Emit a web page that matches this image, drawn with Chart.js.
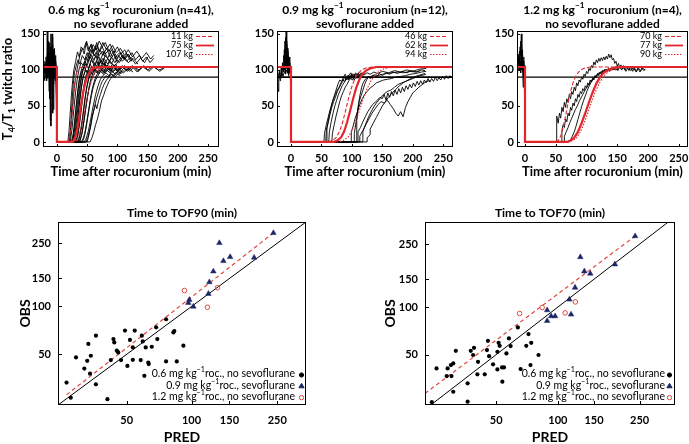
<!DOCTYPE html>
<html>
<head>
<meta charset="utf-8">
<script src="https://cdn.jsdelivr.net/npm/chart.js@4.4.1/dist/chart.umd.min.js"></script>
<style>
body{margin:0;background:#fff;width:689px;height:444px;overflow:hidden;position:relative}
canvas{position:absolute}
</style>
</head>
<body>
<canvas id="panelA" width="230" height="185" style="left:0;top:0"></canvas>
<canvas id="panelB" width="230" height="185" style="left:240px;top:0"></canvas>
<canvas id="panelC" width="219" height="185" style="left:470px;top:0"></canvas>
<canvas id="panelD" width="345" height="244" style="left:0;top:200px"></canvas>
<canvas id="panelE" width="344" height="244" style="left:345px;top:200px"></canvas>
<script>
// shared ticks
const timeTicks = [0, 50, 100, 150, 200, 250];
const ratioTicks = [0, 50, 100, 150];
const predTicks = [50, 100, 150, 250];
const tofLevel = 90;

// ---- 0.6 mg/kg, no sevoflurane ----
const aTitle = ['0.6 mg kg^−1^ rocuronium (n=41),', 'no sevoflurane added'];
const aWeights = ['11 kg', '75 kg', '107 kg'];
const aPredDashed = [[-23,104],[0,104],[0,0],[17,0],[19,2],[21,8],[23,20],[25,38],[27,58],[29,76],[31,89],[33,97],[35,101],[38,103],[44,104],[268,104]];
const aPredSolid = [[-23,104],[0,104],[0,0],[25,0],[28,2],[31,8],[34,19],[37,35],[40,52],[43,67],[46,79],[49,88],[52,94],[56,99],[60,102],[66,103.5],[75,104],[268,104]];
const aPredDotted = [[-23,104],[0,104],[0,0],[29,0],[33,3],[37,10],[41,23],[45,40],[49,58],[53,73],[57,85],[61,93],[65,98],[70,101],[77,103],[88,104],[268,104]];
const aBaseline = [
  [[-23,92],[-22,100],[-21,88],[-20,105],[-19,96],[-18,110],[-17,85],[-16,120],[-15,95],[-14,140],[-13,70],[-12,118],[-11,30],[-10,125],[-9,90],[-8,150],[-7,60],[-6,115],[-5,95],[-4,130],[-3,100],[-2,105],[-1,98],[0,0]],
  [[-23,105],[-21,96],[-20,112],[-18,90],[-17,104],[-15,88],[-14,110],[-12,95],[-11,132],[-10,22],[-9,100],[-7,145],[-6,80],[-5,110],[-3,92],[-1,98],[0,0]],
  [[-23,88],[-22,95],[-20,85],[-19,100],[-17,92],[-16,155],[-15,98],[-13,106],[-12,60],[-11,112],[-9,96],[-8,118],[-7,40],[-6,104],[-4,126],[-3,85],[-2,112],[0,0]],
  [[-13,100],[-12,138],[-11,105],[-10,150],[-9,98],[-8,112],[-7,135],[-6,45],[-5,102],[-4,116],[-3,95],[-2,108],[-1,102],[0,0]],
  [[-23,100],[-20,104],[-17,99],[-14,110],[-11,92],[-9,104],[-7,98],[-5,110],[-3,100],[-1,96],[0,0]],
  [[-22,96],[-21,108],[-19,94],[-18,118],[-16,102],[-15,90],[-13,124],[-12,104],[-10,86],[-9,115],[-8,102],[-6,128],[-5,100],[-4,88],[-2,120],[-1,92],[0,0]]
];
const aObserved = [
  [[0,0],[18,0],[20,15],[22,40],[24,65],[26,85],[28,100],[31,112],[34,125],[37,118],[40,132],[44,128],[48,138],[52,126],[56,135],[60,124],[65,130],[70,120],[75,126],[80,118]],
  [[0,0],[20,0],[23,20],[26,50],[29,78],[32,95],[35,108],[38,120],[42,130],[45,122],[49,140],[53,128],[57,136],[61,126],[66,138],[70,125],[75,132],[80,122],[86,128],[92,118]],
  [[0,0],[22,0],[25,18],[28,45],[31,70],[34,90],[37,102],[40,110],[44,106],[48,118],[52,112],[56,122],[60,114],[65,120],[70,108],[76,116],[82,104],[88,112],[95,105],[100,110]],
  [[0,0],[24,0],[27,12],[30,35],[33,60],[36,82],[39,96],[42,104],[46,112],[50,106],[55,118],[60,110],[66,124],[72,114],[78,126],[84,116],[90,128],[97,118],[104,124],[110,115],[116,122],[122,112]],
  [[0,0],[25,0],[28,10],[31,28],[34,52],[37,74],[40,90],[43,100],[47,108],[52,102],[57,114],[62,106],[68,118],[74,108],[80,120],[87,112],[94,122],[100,110],[108,120],[115,112],[122,118],[130,108],[138,116],[145,110],[150,118]],
  [[0,0],[26,0],[29,20],[32,48],[35,72],[38,90],[41,98],[45,104],[50,96],[55,108],[60,100],[66,112],[72,102],[78,110],[85,100],[92,108],[100,98],[108,106],[116,98],[125,104],[133,97],[140,104]],
  [[0,0],[28,0],[31,8],[34,25],[37,50],[40,72],[43,88],[46,98],[50,110],[55,126],[60,135],[65,128],[70,140],[75,132],[80,138],[86,126],[92,134],[98,124],[105,130],[112,120],[118,128],[125,118],[132,126],[140,116],[148,124],[155,115],[160,120]],
  [[0,0],[29,0],[32,15],[35,38],[38,62],[41,80],[44,92],[48,100],[52,95],[57,104],[62,98],[68,106],[74,100],[80,108],[86,100],[93,106],[100,98],[108,104],[116,100],[125,106],[134,98],[142,104],[150,100],[160,105],[170,98],[178,103]],
  [[0,0],[30,0],[33,6],[36,20],[39,40],[42,62],[45,80],[48,92],[52,100],[56,112],[61,122],[66,116],[71,128],[76,120],[82,130],[88,118],[94,126],[100,116],[106,124],[112,114],[118,122],[124,112]],
  [[0,0],[32,0],[35,10],[38,28],[41,50],[44,70],[47,85],[50,94],[54,100],[58,94],[63,102],[68,96],[74,104],[80,98],[86,106],[92,98],[98,104],[104,96],[110,102]],
  [[0,0],[33,0],[36,4],[39,15],[42,32],[45,52],[48,70],[51,84],[54,94],[58,100],[62,110],[67,102],[72,114],[78,106],[84,116],[90,108],[96,118],[103,110],[110,120],[118,110],[126,116],[134,108]],
  [[0,0],[35,0],[38,8],[41,22],[44,42],[47,62],[50,78],[53,88],[57,96],[61,102],[66,96],[71,104],[77,98],[83,106],[90,100],[97,108],[104,100],[112,106],[120,98],[128,104],[136,100],[144,106],[152,98],[160,104],[168,100],[176,102]],
  [[0,0],[36,0],[39,5],[42,14],[45,30],[48,48],[51,65],[54,80],[57,90],[60,96],[64,102],[68,110],[73,104],[78,116],[84,108],[90,118],[96,110],[102,120],[108,112],[115,118]],
  [[0,0],[38,0],[41,10],[44,26],[47,44],[50,60],[53,74],[56,84],[60,92],[64,98],[69,94],[74,100],[80,96],[86,102],[92,97],[98,101]],
  [[0,0],[40,0],[43,4],[46,12],[49,26],[52,42],[55,58],[58,72],[61,82],[64,90],[68,96],[72,100],[77,96],[82,104],[88,98],[94,106],[100,100],[106,104]],
  [[0,0],[42,0],[45,6],[48,18],[51,34],[54,50],[57,64],[60,76],[64,86],[68,92],[72,98],[77,94],[82,100],[88,96],[94,104],[100,98],[108,104],[115,99],[122,104]],
  [[0,0],[45,0],[48,4],[52,15],[56,32],[60,50],[64,66],[68,78],[72,87],[76,92],[81,96],[86,92],[91,98],[97,94],[103,100],[110,96],[118,102],[126,97]],
  [[0,0],[50,0],[53,10],[56,22],[58,35],[61,44],[64,52],[66,46],[69,58],[72,66],[75,74],[78,80],[82,86],[86,90],[90,94],[95,92],[100,98],[106,95],[112,100]],
  [[0,0],[55,0],[58,6],[61,14],[64,24],[67,32],[70,42],[72,50],[74,58],[77,64],[80,72],[83,78],[86,84],[89,88],[92,92],[96,90],[100,94],[105,92]],
  [[0,0],[21,0],[23,25],[25,55],[27,80],[29,96],[32,106],[35,114],[38,108],[42,120],[46,114],[50,124],[54,116],[58,128],[62,120],[66,126]],
  [[0,0],[27,0],[30,12],[33,34],[36,58],[39,80],[42,96],[46,108],[50,118],[55,128],[60,122],[65,134],[70,126],[76,138],[82,128],[88,136],[94,124],[100,132],[106,122],[112,128],[118,118],[124,124],[130,114],[136,120],[142,112],[148,118],[154,110],[160,116]],
  [[0,0],[48,0],[51,6],[54,16],[57,28],[60,40],[63,52],[66,62],[69,70],[72,78],[75,84],[78,88],[81,92],[85,90],[89,95],[93,92],[98,97],[103,94],[108,99]]
];

// ---- 0.9 mg/kg, sevoflurane ----
const bTitle = ['0.9 mg kg^−1^ rocuronium (n=12),', 'sevoflurane added'];
const bWeights = ['46 kg', '62 kg', '94 kg'];
const bPredDashed = [[-23,104],[0,104],[0,0],[62,0],[68,2],[74,6],[80,15],[85,28],[90,45],[95,62],[100,77],[105,88],[110,95],[116,100],[124,103],[135,104],[266,104]];
const bPredSolid = [[-23,104],[0,104],[0,0],[70,0],[76,2],[82,6],[87,14],[92,27],[97,43],[102,60],[107,75],[112,86],[117,94],[123,99],[130,102],[140,104],[266,104]];
const bPredDotted = [[-23,104],[0,104],[0,0],[78,0],[86,2],[94,7],[100,15],[106,28],[112,43],[118,58],[124,72],[130,83],[136,91],[143,97],[151,101],[162,103.5],[175,104],[266,104]];
const bBaseline = [
  [[-23,88],[-22,96],[-21,70],[-20,92],[-19,100],[-18,85],[-17,96],[-16,104],[-15,92],[-14,110],[-13,98],[-12,120],[-11,100],[-10,140],[-9,95],[-8,155],[-7,105],[-6,130],[-5,96],[-4,112],[-3,100],[-2,104],[-1,98],[0,0]],
  [[-13,105],[-12,98],[-11,128],[-10,110],[-9,145],[-8,102],[-7,135],[-6,98],[-5,120],[-4,92],[-3,110],[-2,96],[-1,102],[0,0]],
  [[-23,94],[-21,92],[-19,96],[-17,90],[-15,95],[-13,91],[-11,98],[-9,94],[-7,100],[-5,95],[-3,98],[-1,94],[0,0]],
  [[-10,100],[-9,118],[-8,108],[-7,140],[-6,112],[-5,126],[-4,104],[-3,118],[-2,100],[-1,106],[0,0]]
];
const bObserved = [
  [[0,0],[54,0],[55,12],[58,24],[61,34],[64,44],[67,52],[70,60],[73,66],[76,72],[79,76],[82,82],[85,86],[88,84],[91,90],[94,86],[97,92],[100,88],[103,94],[106,89],[109,95],[112,91],[115,96],[118,92],[121,95]],
  [[0,0],[57,0],[58,16],[61,26],[64,38],[67,48],[70,56],[73,62],[76,70],[79,75],[82,80],[85,84],[88,90],[91,86],[94,93],[97,88],[100,95],[103,90],[106,96],[109,92],[112,97]],
  [[0,0],[62,0],[63,14],[66,28],[69,40],[72,50],[75,58],[78,66],[81,72],[84,78],[87,82],[90,86],[93,90],[96,87],[99,93],[102,89],[105,94],[108,91],[111,95],[114,92],[117,96],[120,93],[125,96],[130,94],[136,97],[142,95],[150,98],[160,96],[170,99],[180,97],[190,100],[200,98],[210,101],[222,102]],
  [[0,0],[67,0],[68,12],[71,24],[74,36],[77,46],[80,56],[83,64],[86,70],[89,76],[92,80],[95,85],[98,88],[101,86],[104,90],[107,88],[110,92],[113,89],[116,93],[119,90]],
  [[0,0],[99,0],[99,14],[102,22],[105,32],[109,42],[113,52],[117,60],[121,66],[125,70],[130,75],[135,78],[140,82],[146,84],[152,86],[158,87],[165,88],[172,90],[180,91],[188,92],[196,94],[205,95],[214,97],[222,98]],
  [[0,0],[104,0],[104,12],[107,28],[110,48],[113,64],[116,76],[119,83],[122,87],[126,90],[131,91],[137,93],[143,92],[150,94],[158,95],[166,96],[175,97],[185,96],[195,98],[205,97],[212,99]],
  [[0,0],[110,0],[110,14],[114,20],[118,28],[122,35],[126,42],[130,47],[134,52],[138,55],[142,58],[146,62],[150,60],[153,66],[156,58],[159,68],[162,62],[165,70],[168,64],[171,72],[174,66],[177,74],[180,68],[183,76],[186,70],[189,78],[192,73],[195,80],[198,75],[201,82],[204,77],[207,84],[210,79],[213,85],[216,80],[219,86],[222,82],[225,88],[228,83],[231,88],[234,84],[237,90],[240,85],[243,89],[246,86],[249,91],[252,87],[255,92],[258,88],[261,92],[264,89],[267,93]],
  [[0,0],[113,0],[113,8],[118,16],[123,24],[128,32],[133,40],[138,46],[143,52],[148,56],[153,54],[158,58],[163,52],[168,46],[172,40],[176,36],[180,42],[184,35],[188,48],[192,56],[196,62],[200,68],[205,72],[210,76],[216,80],[222,84],[228,85]],
  [[0,0],[118,0],[118,14],[123,26],[128,36],[134,46],[140,54],[146,60],[152,66],[158,70],[164,72],[170,76],[176,80],[182,82],[188,84],[194,86],[200,88],[206,90],[212,92],[218,93],[222,94]],
  [[0,0],[125,0],[125,6],[130,10],[130,18],[135,26],[140,34],[145,42],[150,50],[155,56],[160,62],[166,68],[172,73],[178,78],[184,82],[190,85],[197,88],[204,91],[212,93],[220,95]],
  [[0,0],[108,0],[108,30],[110,45],[112,56],[115,64],[118,72],[121,80],[124,86],[127,90],[131,88],[135,93],[140,90],[145,95],[150,92],[156,96],[162,94],[168,97],[175,95],[182,98],[190,96],[198,99],[206,97],[214,100],[220,99]],
  [[0,0],[58,0],[59,20],[62,34],[65,46],[68,56],[71,64],[74,72],[77,80],[80,86],[83,84],[86,90],[89,94],[92,88],[95,92],[98,96],[101,90],[104,86],[107,92],[110,88]]
];

// ---- 1.2 mg/kg, no sevoflurane ----
const cTitle = ['1.2 mg kg^−1^ rocuronium (n=4),', 'no sevoflurane added'];
const cWeights = ['70 kg', '77 kg', '90 kg'];
const cPredDashed = [[-13,104],[0,104],[0,0],[50,0],[54,2],[58,8],[62,20],[66,36],[70,54],[74,70],[78,82],[82,90],[86,96],[91,100],[97,102.5],[106,104],[265,104]];
const cPredSolid = [[-13,104],[0,104],[0,0],[68,0],[74,2],[80,6],[86,14],[92,26],[98,40],[104,55],[110,69],[116,81],[122,90],[128,96],[135,100],[143,102.5],[155,104],[265,104]];
const cPredDotted = [[-13,104],[0,104],[0,0],[72,0],[78,2],[84,6],[90,14],[96,26],[102,40],[108,55],[114,69],[120,80],[126,89],[132,95],[139,99],[147,102],[160,104],[265,104]];
const cBaseline = [
  [[-13,95],[-12,104],[-11,100],[-10,118],[-9,110],[-8,132],[-7,120],[-6,150],[-5,115],[-4,128],[-3,92],[-2,118],[-1,80],[0,0]],
  [[-13,100],[-12,110],[-11,104],[-10,122],[-9,100],[-8,112],[-7,96],[-6,118],[-5,100],[-4,108],[-3,76],[-2,104],[-1,98],[0,0]],
  [[-12,102],[-11,114],[-10,108],[-9,126],[-8,104],[-7,140],[-6,110],[-5,124],[-4,98],[-3,112],[-2,90],[-1,106],[0,0]]
];
const cObserved = [
  [[0,0],[51,0],[51,22],[52,36],[54,26],[56,40],[58,33],[60,48],[62,42],[64,55],[66,48],[68,60],[70,55],[72,66],[74,60],[76,70],[78,66],[80,76],[82,71],[84,82],[86,78],[88,86],[90,83],[92,90],[94,87],[96,94],[98,91],[100,98],[102,95],[104,102],[106,99],[108,106],[110,103],[112,111],[114,107],[116,114],[118,110],[120,116],[122,112],[124,117],[126,113],[128,118],[130,114],[132,119],[134,115],[136,122],[138,117],[140,121],[142,114],[144,116],[146,109],[148,112],[150,105],[152,109],[154,103],[156,107],[158,101],[160,106],[163,100],[166,105],[169,99],[172,104],[175,98],[178,103],[181,97],[184,102],[187,97],[190,103],[193,99],[196,101]],
  [[0,0],[60,0],[60,16],[62,24],[64,20],[66,32],[68,28],[70,40],[72,36],[74,48],[76,44],[78,54],[80,50],[82,60],[84,56],[86,66],[88,62],[90,70],[92,67],[94,74],[96,71],[98,78],[100,75],[102,82],[104,79],[106,86],[108,83],[110,89],[112,86],[114,92],[116,89],[118,95],[120,92],[122,97],[124,94],[126,99],[128,96],[130,101],[133,97],[136,103],[139,99],[142,104],[145,100],[148,105],[151,99],[154,104],[157,100],[160,103],[164,98],[168,104],[172,99],[176,103],[180,98],[184,103],[188,99],[192,102],[195,100]],
  [[0,0],[64,0],[64,8],[67,14],[70,20],[73,27],[76,33],[79,39],[82,45],[85,50],[88,56],[91,61],[94,66],[97,71],[100,75],[103,79],[106,83],[109,86],[112,89],[115,91],[118,93],[121,95],[125,96],[129,98],[133,99],[138,100],[143,101],[148,100],[152,102]],
  [[0,0],[71,0],[74,3],[77,8],[80,14],[83,22],[86,31],[89,40],[92,49],[95,57],[98,64],[101,71],[104,77],[107,82],[110,86],[113,90],[116,93],[119,95],[123,97],[127,99],[131,100],[136,101]]
];

// ---- time to TOF90: [PRED, OBS] ----
const tof90Roc06 = [[26.3,33.2],[27.5,26.7],[29.1,47.8],[31.8,40.7],[32.8,45.5],[33.2,58.1],[34.1,49.0],[33.8,37.8],[36.0,65.5],[36.0,32.4],[40.7,26.1],[42.2,46.0],[43.4,62.4],[43.8,59.4],[45.0,52.7],[45.7,51.4],[47.1,46.0],[49.1,70.5],[50.4,42.3],[51.8,61.6],[53.4,55.3],[53.4,46.2],[54.5,70.5],[58.1,46.0],[58.8,65.5],[59.4,60.3],[60.4,36.6],[61.3,55.3],[63.0,44.4],[63.3,43.4],[65.4,55.8],[68.5,73.9],[69.4,62.4],[76.2,45.1],[76.2,83.1],[82.4,68.7],[83.2,70.0],[85.4,45.1],[91.7,56.7]];
const tof90Roc09Sevo = [[96.7,105.4],[97.7,110.2],[102,99.9],[119.8,120.2],[121,142.3],[126.3,166.4],[134.7,251],[140.6,193.2],[151.1,204.8],[195.3,203],[240,290]];
const tof90Roc12 = [[92.7,126],[118.5,98.9],[131.9,131.2]];
const tof90Fit = [[26.3,27.8],[240,290]];

// ---- time to TOF70: [PRED, OBS] ----
const tof70Roc06 = [[24.3,25.0],[25.6,40.9],[28.7,36.6],[29.0,40.9],[30.1,42.9],[30.3,36.6],[30.9,44.0],[30.9,29.1],[31.8,52.8],[36.3,32.9],[36.3,25.2],[37.6,52.8],[38.6,49.7],[39.0,55.2],[40.8,45.0],[40.5,37.5],[44.0,37.5],[45.1,53.4],[45.6,61.1],[46.2,48.9],[48.3,43.4],[50.7,52.1],[51.4,59.4],[52.0,56.8],[50.7,40.3],[53.4,41.5],[53.6,33.7],[54.6,41.5],[56.1,50.9],[57.7,63.3],[58.8,56.6],[65.8,40.5],[63.8,74.3],[70.1,56.8],[71.9,67.4],[74.1,59.4],[73.5,42.9],[80.4,49.7]];
const tof70Roc09Sevo = [[88.6,95.5],[88.6,81.7],[92.7,87.5],[96.9,87.5],[115.9,89.7],[113.7,111.6],[121.2,132.8],[128.6,207],[134.5,168.3],[143.8,162.8],[189.5,186.3],[237.8,281]];
const tof70Roc12 = [[65.0,91.0],[83.8,99.3],[108.4,91.8],[121.6,107.7]];
const tof70Fit = [[22.5,28.4],[237.8,281]];

const identityLine = [[10,10],[500,500]];
const groupLabels = ['0.6 mg kg^−1^roc., no sevoflurane', '0.9 mg kg^−1^roc., sevoflurane', '1.2 mg kg^−1^roc., no sevoflurane'];

const RED = '#e3262b';
const NAVY = '#1c2566';
const FONT = 'Lato, "Open Sans", sans-serif';

function toXY(arr) {
    return arr.map(p => ({x: p[0], y: p[1]}));
}

// '^' toggles superscript, '_' toggles subscript
function richText(ctx, text, x, y, size, weight, align) {
    let parts = [], mode = 0, buf = '';
    for (const ch of text) {
        if (ch === '^' || ch === '_') {
            if (buf) parts.push({t: buf, m: mode});
            buf = '';
            mode = mode ? 0 : (ch === '^' ? 1 : 2);
        } else buf += ch;
    }
    if (buf) parts.push({t: buf, m: mode});
    const fontFor = m => `${weight} ${m ? size * 0.68 : size}px ${FONT}`;
    let w = 0;
    parts.forEach(p => { ctx.font = fontFor(p.m); p.w = ctx.measureText(p.t).width; w += p.w; });
    let cx = align === 'center' ? x - w / 2 : (align === 'right' ? x - w : x);
    ctx.textAlign = 'left';
    ctx.textBaseline = 'middle';
    parts.forEach(p => {
        ctx.font = fontFor(p.m);
        let dy = p.m === 1 ? -size * 0.38 : (p.m === 2 ? size * 0.3 : 0);
        ctx.fillText(p.t, cx, y + dy);
        cx += p.w;
    });
}

const panelDecor = {
    id: 'panelDecor',
    afterDraw(chart, args, o) {
        const ctx = chart.ctx, a = chart.chartArea;
        const xs = chart.scales.x, ys = chart.scales.y;
        ctx.save();
        ctx.fillStyle = '#000';
        ctx.strokeStyle = '#000';
        ctx.lineWidth = 1;
        ctx.strokeRect(Math.round(a.left) + 0.5, Math.round(a.top) + 0.5, Math.round(a.right - a.left) - 1, Math.round(a.bottom - a.top) - 1);
        ctx.beginPath();
        xs.ticks.forEach(t => {
            let px = Math.round(xs.getPixelForValue(t.value)) + 0.5;
            ctx.moveTo(px, a.bottom); ctx.lineTo(px, a.bottom - o.tick);
        });
        ys.ticks.forEach(t => {
            let py = Math.round(ys.getPixelForValue(t.value)) + 0.5;
            ctx.moveTo(a.left, py); ctx.lineTo(a.left + o.tick, py);
        });
        ctx.stroke();

        const cx = (a.left + a.right) / 2, cy = (a.top + a.bottom) / 2;
        o.title.forEach((line, i) => richText(ctx, line, cx, o.titleY + i * 14, o.titleSize, 'bold', 'center'));
        richText(ctx, o.xTitle, cx, o.xTitleY, o.axisSize, 'bold', 'center');
        if (o.yTitle) {
            ctx.save();
            ctx.translate(o.yTitleX, cy);
            ctx.rotate(-Math.PI / 2);
            richText(ctx, o.yTitle, 0, 0, o.axisSize, 'bold', 'center');
            ctx.restore();
        }

        // legend
        o.legend.forEach((item, i) => {
            let y = o.legendTop === undefined ? a.bottom - o.legendBottom + i * o.legendGap : a.top + o.legendTop + i * o.legendGap;
            ctx.fillStyle = '#000';
            richText(ctx, item.label, a.right - o.textRight, y, o.legendSize, 'normal', 'right');
            if (item.style === 'line') {
                ctx.strokeStyle = RED;
                ctx.lineWidth = item.width;
                ctx.setLineDash(item.dash);
                ctx.beginPath();
                ctx.moveTo(a.right - o.lineFrom, y + 0.5);
                ctx.lineTo(a.right - o.lineTo, y + 0.5);
                ctx.stroke();
                ctx.setLineDash([]);
            } else {
                ctx.fillStyle = item.fill;
                ctx.strokeStyle = item.stroke;
                ctx.lineWidth = 1;
                Chart.helpers.drawPoint(ctx, {pointStyle: item.style, radius: item.radius, rotation: 0, borderWidth: 1}, a.right - o.markerAt, y + 1);
            }
        });
        ctx.restore();
    }
};

function lineSet(points, color, width, dash, order) {
    return {data: toXY(points), showLine: true, borderColor: color, borderWidth: width, borderDash: dash, pointRadius: 0, order: order};
}

function timePanel(id, p) {
    let datasets = [
        lineSet(p.dashed, RED, 1.1, [4, 2], 0),
        lineSet(p.solid, RED, 2.2, [], 0),
        lineSet(p.dotted, RED, 1.1, [1.5, 1.5], 0),
        lineSet([[p.xMin, tofLevel], [p.xMax, tofLevel]], '#000', p.hline, [], 1)
    ];
    p.baseline.concat(p.observed).forEach(tr => datasets.push(lineSet(tr, '#000', 0.9, [], 2)));
    const tickFont = {family: FONT, size: 11, weight: 'bold'};
    new Chart(document.getElementById(id), {
        type: 'scatter',
        data: {datasets: datasets},
        options: {
            animation: false,
            responsive: false,
            layout: {padding: {top: 31, right: p.padRight, left: 0, bottom: 0}},
            plugins: {
                legend: {display: false},
                tooltip: {enabled: false},
                panelDecor: {
                    tick: 3, title: p.title, titleY: 10, titleSize: 12,
                    xTitle: 'Time after rocuronium (min)', xTitleY: 172, axisSize: 13,
                    yTitle: p.yTitle, yTitleX: 8,
                    legend: p.weights.map((w, i) => ({label: w, style: 'line', width: [1, 1.8, 1][i], dash: [[4, 2], [], [1.5, 1.5]][i]})),
                    legendTop: 5, legendGap: 9, legendSize: 9, textRight: 26, lineFrom: 23, lineTo: 5
                }
            },
            scales: {
                x: {
                    type: 'linear', min: p.xMin, max: p.xMax,
                    grid: {display: false, drawTicks: false}, border: {display: false},
                    ticks: {font: tickFont, color: '#000', padding: 5, autoSkip: false, maxRotation: 0, callback: v => String(v)},
                    afterBuildTicks: s => { s.ticks = timeTicks.map(v => ({value: v})); },
                    afterFit: s => { s.height = 38; s.paddingLeft = 0; s.paddingRight = 0; }
                },
                y: {
                    type: 'linear', min: -7, max: 154,
                    grid: {display: false, drawTicks: false}, border: {display: false},
                    ticks: {font: tickFont, color: '#000', padding: 3, autoSkip: false, callback: v => String(v)},
                    afterBuildTicks: s => { s.ticks = ratioTicks.map(v => ({value: v})); },
                    afterFit: s => { s.width = p.yWidth; s.paddingTop = 0; s.paddingBottom = 0; }
                }
            }
        },
        plugins: [panelDecor]
    });
}

function tofPanel(id, p) {
    let datasets = [
        {data: toXY(p.roc06), pointStyle: 'circle', pointRadius: 2.1, backgroundColor: '#000', borderColor: '#000', borderWidth: 0, order: 0},
        {data: toXY(p.roc09), pointStyle: 'triangle', pointRadius: 3.2, backgroundColor: NAVY, borderColor: NAVY, borderWidth: 0.5, order: 0},
        {data: toXY(p.roc12), pointStyle: 'circle', pointRadius: 2.3, backgroundColor: 'rgba(255,255,255,0)', borderColor: '#e0473f', borderWidth: 1, order: 0},
        lineSet(identityLine, '#000', 1, [], 2),
        lineSet(p.fit, '#e0473f', 1.2, [4, 3], 1)
    ];
    const tickFont = {family: FONT, size: 11, weight: 'bold'};
    new Chart(document.getElementById(id), {
        type: 'scatter',
        data: {datasets: datasets},
        options: {
            animation: false,
            responsive: false,
            layout: {padding: {top: 22, right: p.padRight, left: 0, bottom: 0}},
            plugins: {
                legend: {display: false},
                tooltip: {enabled: false},
                panelDecor: {
                    tick: 4, title: [p.title], titleY: 13, titleSize: 12,
                    xTitle: 'PRED', xTitleY: 237, axisSize: 14,
                    yTitle: 'OBS', yTitleX: p.yTitleX,
                    legend: [
                        {label: groupLabels[0], style: 'circle', radius: 2.1, fill: '#000', stroke: '#000'},
                        {label: groupLabels[1], style: 'triangle', radius: 3, fill: NAVY, stroke: NAVY},
                        {label: groupLabels[2], style: 'circle', radius: 2.2, fill: 'rgba(255,255,255,0)', stroke: '#e0473f'}
                    ],
                    legendBottom: 31, legendGap: 11.3, legendSize: 10.5, textRight: p.textRight, markerAt: p.markerAt
                }
            },
            scales: {
                x: {
                    type: 'logarithmic', min: p.xMin, max: p.xMax,
                    grid: {display: false, drawTicks: false}, border: {display: false},
                    ticks: {font: tickFont, color: '#000', padding: 9, autoSkip: false, maxRotation: 0, callback: v => String(v)},
                    afterBuildTicks: s => { s.ticks = predTicks.map(v => ({value: v})); },
                    afterFit: s => { s.height = 39; s.paddingLeft = 0; s.paddingRight = 0; }
                },
                y: {
                    type: 'logarithmic', min: 24, max: p.yMax,
                    grid: {display: false, drawTicks: false}, border: {display: false},
                    ticks: {font: tickFont, color: '#000', padding: 7, autoSkip: false, callback: v => String(v)},
                    afterBuildTicks: s => { s.ticks = predTicks.map(v => ({value: v})); },
                    afterFit: s => { s.width = p.yWidth; s.paddingTop = 0; s.paddingBottom = 0; }
                }
            }
        },
        plugins: [panelDecor]
    });
}

timePanel('panelA', {title: aTitle, weights: aWeights, dashed: aPredDashed, solid: aPredSolid, dotted: aPredDotted,
    baseline: aBaseline, observed: aObserved, xMin: -23, xMax: 268, yWidth: 43, padRight: 11, hline: 1.1, yTitle: 'T_4_/T_1_ twitch ratio'});
timePanel('panelB', {title: bTitle, weights: bWeights, dashed: bPredDashed, solid: bPredSolid, dotted: bPredDotted,
    baseline: bBaseline, observed: bObserved, xMin: -23, xMax: 266, yWidth: 37, padRight: 17, hline: 1.8, yTitle: ''});
timePanel('panelC', {title: cTitle, weights: cWeights, dashed: cPredDashed, solid: cPredSolid, dotted: cPredDotted,
    baseline: cBaseline, observed: cObserved, xMin: -13, xMax: 265, yWidth: 47, padRight: 1, hline: 1.1, yTitle: ''});
tofPanel('panelD', {title: 'Time to TOF90 (min)', roc06: tof90Roc06, roc09: tof90Roc09Sevo, roc12: tof90Roc12, fit: tof90Fit,
    xMin: 24, xMax: 340, yMax: 340, yWidth: 58, padRight: 39, yTitleX: 25, textRight: 11, markerAt: 4.5});
tofPanel('panelE', {title: 'Time to TOF70 (min)', roc06: tof70Roc06, roc09: tof70Roc09Sevo, roc12: tof70Roc12, fit: tof70Fit,
    xMin: 22.5, xMax: 372, yMax: 345, yWidth: 80, padRight: 14, yTitleX: 45, textRight: 10, markerAt: 5.5});
</script>
</body>
</html>
